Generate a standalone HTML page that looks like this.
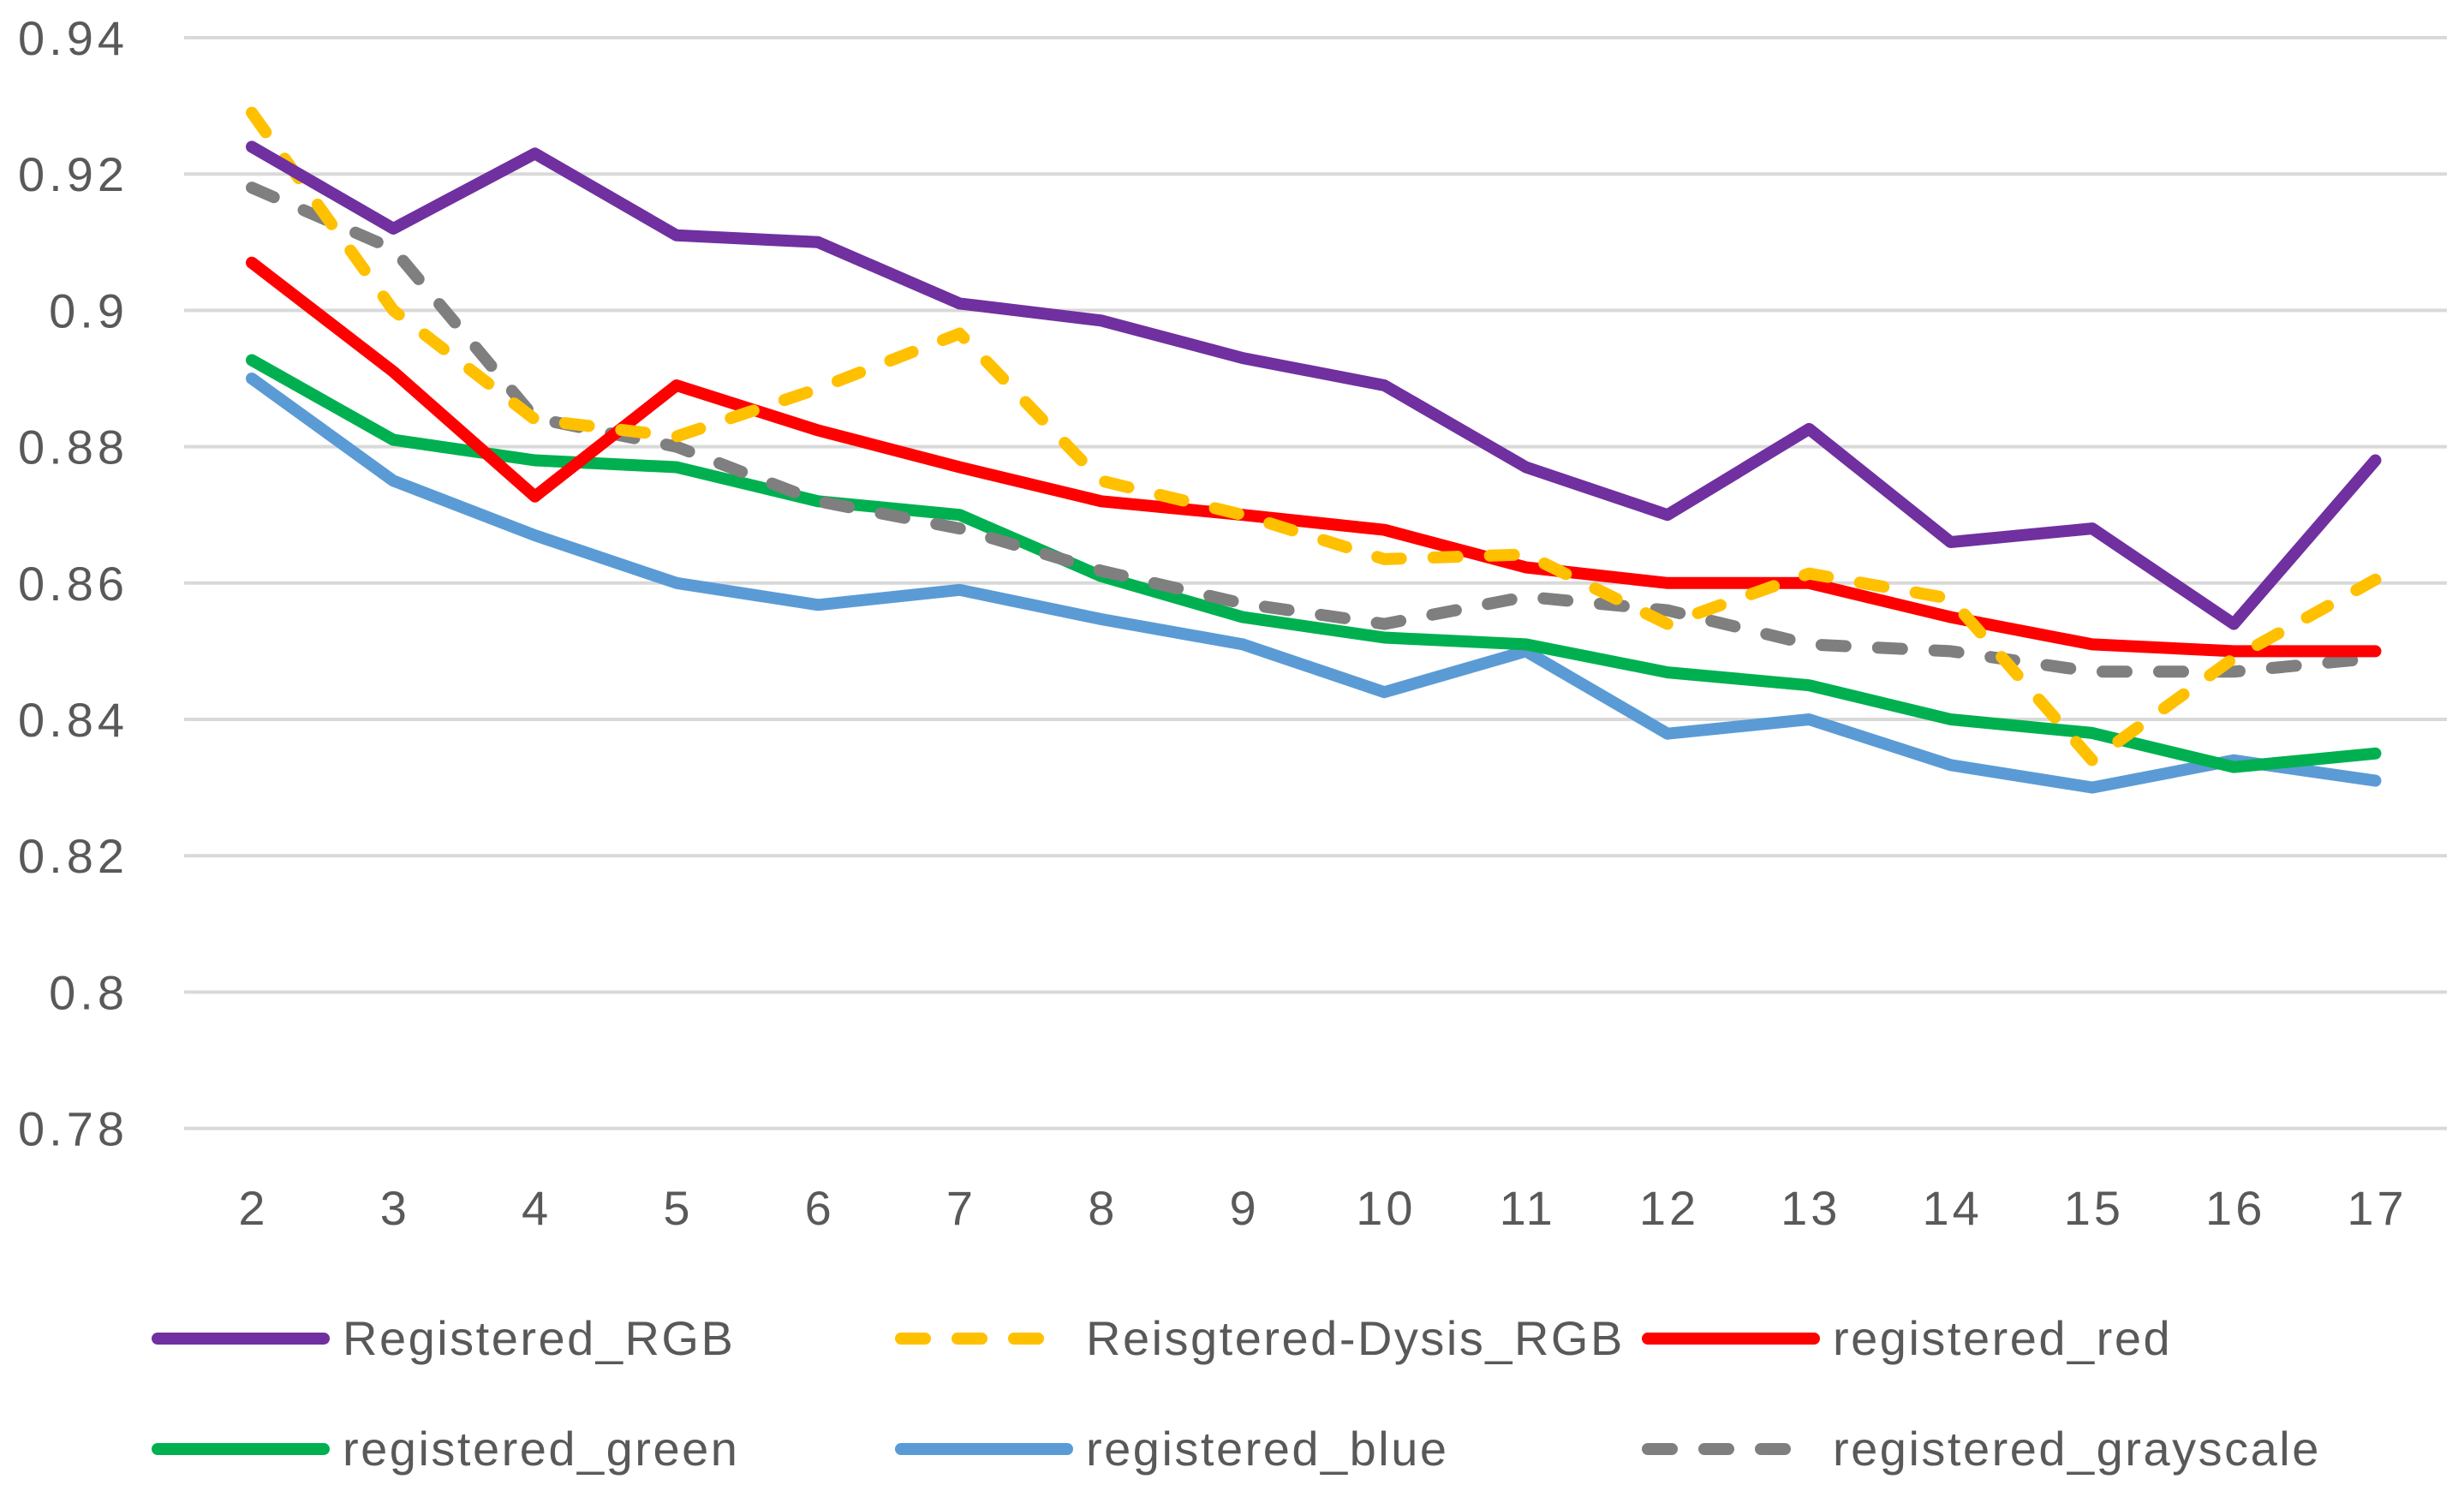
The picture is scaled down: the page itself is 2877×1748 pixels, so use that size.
<!DOCTYPE html>
<html><head><meta charset="utf-8"><style>
html,body{margin:0;padding:0;background:#fff}
svg{display:block}
text{font-family:"Liberation Sans",sans-serif;fill:#595959}
</style></head><body>
<svg id="chart" width="2877" height="1748" viewBox="0 0 2877 1748" xmlns="http://www.w3.org/2000/svg">
<g id="grid"></g>
<g id="yaxis"></g>
<g id="xaxis"></g>
<g id="series"></g>
<g id="legend"></g>
</svg>
<script>
const categories=[2,3,4,5,6,7,8,9,10,11,12,13,14,15,16,17];
const yTicks=[0.78,0.8,0.82,0.84,0.86,0.88,0.9,0.92,0.94];
const yTickLabels=["0.78","0.8","0.82","0.84","0.86","0.88","0.9","0.92","0.94"];
const seriesNames=["Registered_RGB","Reisgtered-Dysis_RGB","registered_red","registered_green","registered_blue","registered_grayscale"];
const registeredRGB=[0.924,0.912,0.923,0.911,0.910,0.901,0.8985,0.893,0.889,0.877,0.870,0.8826,0.866,0.868,0.854,0.878];
const dysisRGB=[0.929,0.900,0.884,0.8815,0.8885,0.8966,0.875,0.870,0.8635,0.8642,0.854,0.8614,0.8577,0.834,0.849,0.8605];
const registeredRed=[0.907,0.891,0.8727,0.889,0.8824,0.877,0.872,0.870,0.8678,0.8623,0.860,0.860,0.855,0.851,0.850,0.850];
const registeredGreen=[0.8927,0.881,0.878,0.877,0.872,0.870,0.861,0.855,0.852,0.851,0.8469,0.845,0.840,0.838,0.833,0.835];
const registeredBlue=[0.890,0.875,0.867,0.860,0.8568,0.859,0.8547,0.851,0.844,0.850,0.8379,0.840,0.8333,0.830,0.834,0.831];
const registeredGray=[0.918,0.909,0.8842,0.880,0.872,0.868,0.8618,0.857,0.854,0.858,0.856,0.851,0.850,0.847,0.847,0.849];

const NS="http://www.w3.org/2000/svg";
const X0=294,XS=165.3,Y0=44,YMAX=0.94,YPX=159.2/0.02;
function xPos(i){return X0+i*XS;}
function yPos(v){return Y0+(YMAX-v)*YPX;}
function mk(tag,attrs,parent){const e=document.createElementNS(NS,tag);for(const k in attrs)e.setAttribute(k,attrs[k]);parent.appendChild(e);return e;}

const grid=document.getElementById('grid'),ya=document.getElementById('yaxis'),xa=document.getElementById('xaxis'),sg=document.getElementById('series'),lg=document.getElementById('legend');
yTicks.forEach((t,i)=>{
  const l=mk('line',{x1:215,x2:2857,y1:yPos(t),y2:yPos(t),stroke:'#d9d9d9','stroke-width':4},grid);
  
  
  const tx=mk('text',{x:150,y:yPos(t)+20,'text-anchor':'end','font-size':56,'letter-spacing':5},ya);
  tx.textContent=yTickLabels[i];
  
  
});
categories.forEach((c,i)=>{
  const tx=mk('text',{x:xPos(i)+2,y:1430,'text-anchor':'middle','font-size':56,'letter-spacing':4},xa);
  tx.textContent=c;
  
  
});
const styles=[
 {data:registeredRGB,color:'#7030A0',dash:null},
 {data:dysisRGB,color:'#FFC000',dash:'28 38'},
 {data:registeredRed,color:'#FF0000',dash:null},
 {data:registeredGreen,color:'#00B050',dash:null},
 {data:registeredBlue,color:'#5B9BD5',dash:null},
 {data:registeredGray,color:'#7F7F7F',dash:'28 38'}
];
const drawOrder=[4,3,5,2,1,0];
drawOrder.forEach(si=>{
  const s=styles[si];
  const pts=s.data.map((v,i)=>xPos(i).toFixed(1)+','+yPos(v).toFixed(1)).join(' ');
  const a={points:pts,fill:'none',stroke:s.color,'stroke-width':14,'stroke-linejoin':'round','stroke-linecap':'round'};
  if(s.dash)a['stroke-dasharray']=s.dash;
  const p=mk('polyline',a,sg);
  
  
});
const legPos=[[178,1563],[1046,1563],[1918,1563],[178,1692],[1046,1692],[1918,1692]];
styles.forEach((s,i)=>{
  const [lx,ly]=legPos[i];
  const g=mk('g',{},lg);
  
  
  const a={x1:lx+6,x2:lx+200,y1:ly,y2:ly,stroke:s.color,'stroke-width':14,'stroke-linecap':'round'};
  if(s.dash)a['stroke-dasharray']='28 38';
  const sw=mk('line',a,g);
  
  
  const tx=mk('text',{x:lx+222,y:ly+19,'font-size':56,'letter-spacing':2.5},g);
  tx.textContent=seriesNames[i];
  
  
});
</script>
</body></html>
